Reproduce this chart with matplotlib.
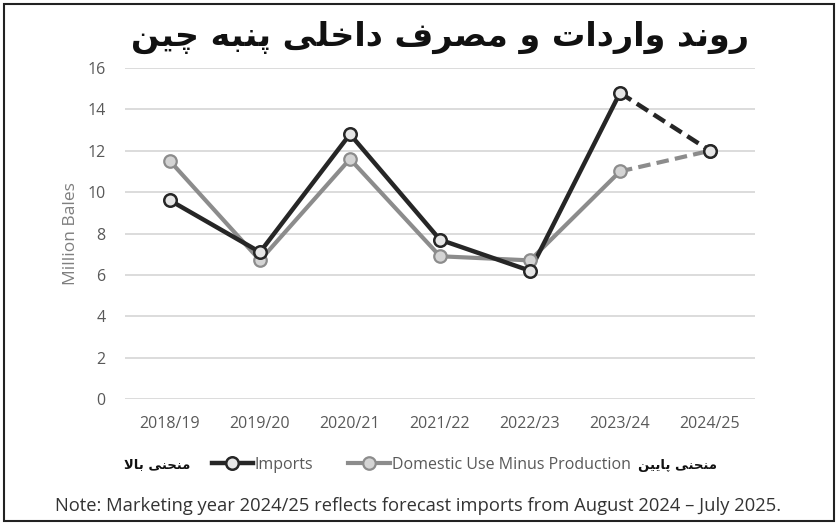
import matplotlib
matplotlib.use("Agg")
import matplotlib.pyplot as plt
from matplotlib.patches import Rectangle
from matplotlib.lines import Line2D

years = ["2018/19", "2019/20", "2020/21", "2021/22", "2022/23", "2023/24", "2024/25"]
imports = [9.6, 7.1, 12.8, 7.7, 6.2, 14.8, 12.0]
domestic = [11.5, 6.7, 11.6, 6.9, 6.7, 11.0, 12.0]
yticks = [0, 2, 4, 6, 8, 10, 12, 14, 16]
title_fa = "روند واردات و مصرف داخلی پنبه چین"
upper_fa = "منحنی بالا"
lower_fa = "منحنی پایین"
note = "Note: Marketing year 2024/25 reflects forecast imports from August 2024 \u2013 July 2025."

# --- minimal Arabic/Persian shaping (presentation forms) ---
FORMS = {
    'ا': ('\uFE8D', '\uFE8E', None, None),
    'ب': ('\uFE8F', '\uFE90', '\uFE91', '\uFE92'),
    'ت': ('\uFE95', '\uFE96', '\uFE97', '\uFE98'),
    'ح': ('\uFEA1', '\uFEA2', '\uFEA3', '\uFEA4'),
    'خ': ('\uFEA5', '\uFEA6', '\uFEA7', '\uFEA8'),
    'د': ('\uFEA9', '\uFEAA', None, None),
    'ر': ('\uFEAD', '\uFEAE', None, None),
    'ص': ('\uFEB9', '\uFEBA', '\uFEBB', '\uFEBC'),
    'ف': ('\uFED1', '\uFED2', '\uFED3', '\uFED4'),
    'ل': ('\uFEDD', '\uFEDE', '\uFEDF', '\uFEE0'),
    'م': ('\uFEE1', '\uFEE2', '\uFEE3', '\uFEE4'),
    'ن': ('\uFEE5', '\uFEE6', '\uFEE7', '\uFEE8'),
    'ه': ('\uFEE9', '\uFEEA', '\uFEEB', '\uFEEC'),
    'و': ('\uFEED', '\uFEEE', None, None),
    'ی': ('\uFBFC', '\uFBFD', '\uFBFE', '\uFBFF'),
    'پ': ('\uFB56', '\uFB57', '\uFB58', '\uFB59'),
    'چ': ('\uFB7A', '\uFB7B', '\uFB7C', '\uFB7D'),
}

def dual(c):
    return c in FORMS and FORMS[c][2] is not None

def shape(text):
    out_words = []
    for word in text.split(' '):
        chars = list(word)
        res = []
        i = 0
        while i < len(chars):
            c = chars[i]
            prev_join = i > 0 and dual(chars[i - 1])
            if c == 'ل' and i + 1 < len(chars) and chars[i + 1] == 'ا':
                res.append('\uFEFC' if prev_join else '\uFEFB')
                i += 2
                continue
            nxt = i + 1 < len(chars) and chars[i + 1] in FORMS
            f = FORMS.get(c)
            if f is None:
                res.append(c)
            else:
                next_join = nxt and dual(c)
                if prev_join and next_join:
                    res.append(f[3])
                elif prev_join:
                    res.append(f[1])
                elif next_join:
                    res.append(f[2])
                else:
                    res.append(f[0])
            i += 1
        out_words.append(''.join(res)[::-1])
    return ' '.join(out_words[::-1])

W, H = 838, 523
fig = plt.figure(figsize=(W / 100, H / 100), dpi=100)
fig.patch.set_facecolor("white")
fig.patches.append(Rectangle((4 / W, 2 / H), 830 / W, 517 / H, transform=fig.transFigure,
                             fill=False, edgecolor="#222222", linewidth=1.5))

ax = fig.add_axes([125 / W, 1 - 399 / H, 630 / W, 331 / H])
x = list(range(len(years)))
grid_c = "#d9d9d9"
for yv in yticks:
    ax.axhline(yv, color=grid_c, lw=1.3, zorder=0)

imp_c = "#262626"
dom_c = "#8c8c8c"
ax.plot(x[:-1], domestic[:-1], color=dom_c, lw=3, zorder=2, solid_capstyle="round")
ax.plot(x[-2:], domestic[-2:], color=dom_c, lw=3, ls=(0, (3, 1.5)), zorder=2)
ax.plot(x[:-1], imports[:-1], color=imp_c, lw=3.2, zorder=3, solid_capstyle="round")
ax.plot(x[-2:], imports[-2:], color=imp_c, lw=3.2, ls=(0, (3, 1.5)), zorder=3)
ax.plot(x, domestic, ls="none", marker="o", ms=9, mfc="#d4d4d4", mec=dom_c, mew=1.6, zorder=4)
ax.plot(x, imports, ls="none", marker="o", ms=9, mfc="#e6e6e6", mec=imp_c, mew=1.8, zorder=5)

ax.set_xlim(-0.5, len(years) - 0.5)
ax.set_ylim(0, 16)
ax.set_xticks(x)
ax.set_xticklabels(years)
ax.set_yticks(yticks)
ax.set_yticklabels([str(v) for v in yticks])
for s in ax.spines.values():
    s.set_visible(False)
ax.tick_params(length=0, labelsize=11.5, labelcolor="#595959", pad=14)
ax.tick_params(axis='x', pad=12)
for lab in ax.get_xticklabels() + ax.get_yticklabels():
    lab.set_fontfamily("Open Sans")
ax.set_ylabel("Million Bales", fontsize=12.5, color="#7f7f7f", fontfamily="Open Sans", labelpad=6)

fig.text(440 / W, 1 - 37 / H, shape(title_fa), ha="center", va="center", fontsize=24,
         fontweight="bold", family=["DejaVu Sans"], color="#111111")

h1 = Line2D([], [], color=imp_c, lw=3.2, marker="o", ms=9, mfc="#e6e6e6", mec=imp_c, mew=1.8)
h2 = Line2D([], [], color=dom_c, lw=3, marker="o", ms=9, mfc="#d4d4d4", mec=dom_c, mew=1.6)
leg = fig.legend([h1, h2], ["Imports", "Domestic Use Minus Production"], loc="center",
                 bbox_to_anchor=(421 / W, 1 - 465 / H), ncol=2, frameon=False,
                 handlelength=2.6, handletextpad=0.1, columnspacing=2.2,
                 prop={"family": "Open Sans", "size": 11.5})
for t in leg.get_texts():
    t.set_color("#595959")

fig.text(190 / W, 1 - 465 / H, shape(upper_fa), ha="right", va="center", fontsize=9.5,
         fontweight="bold", family=["DejaVu Sans"], color="#111111")
fig.text(638 / W, 1 - 465 / H, shape(lower_fa), ha="left", va="center", fontsize=9.5,
         fontweight="bold", family=["DejaVu Sans"], color="#111111")

fig.text(418 / W, 1 - 506 / H, note, ha="center", va="center", fontsize=13.2,
         family="Open Sans", color="#333333")

fig.savefig("out.png", dpi=100)
